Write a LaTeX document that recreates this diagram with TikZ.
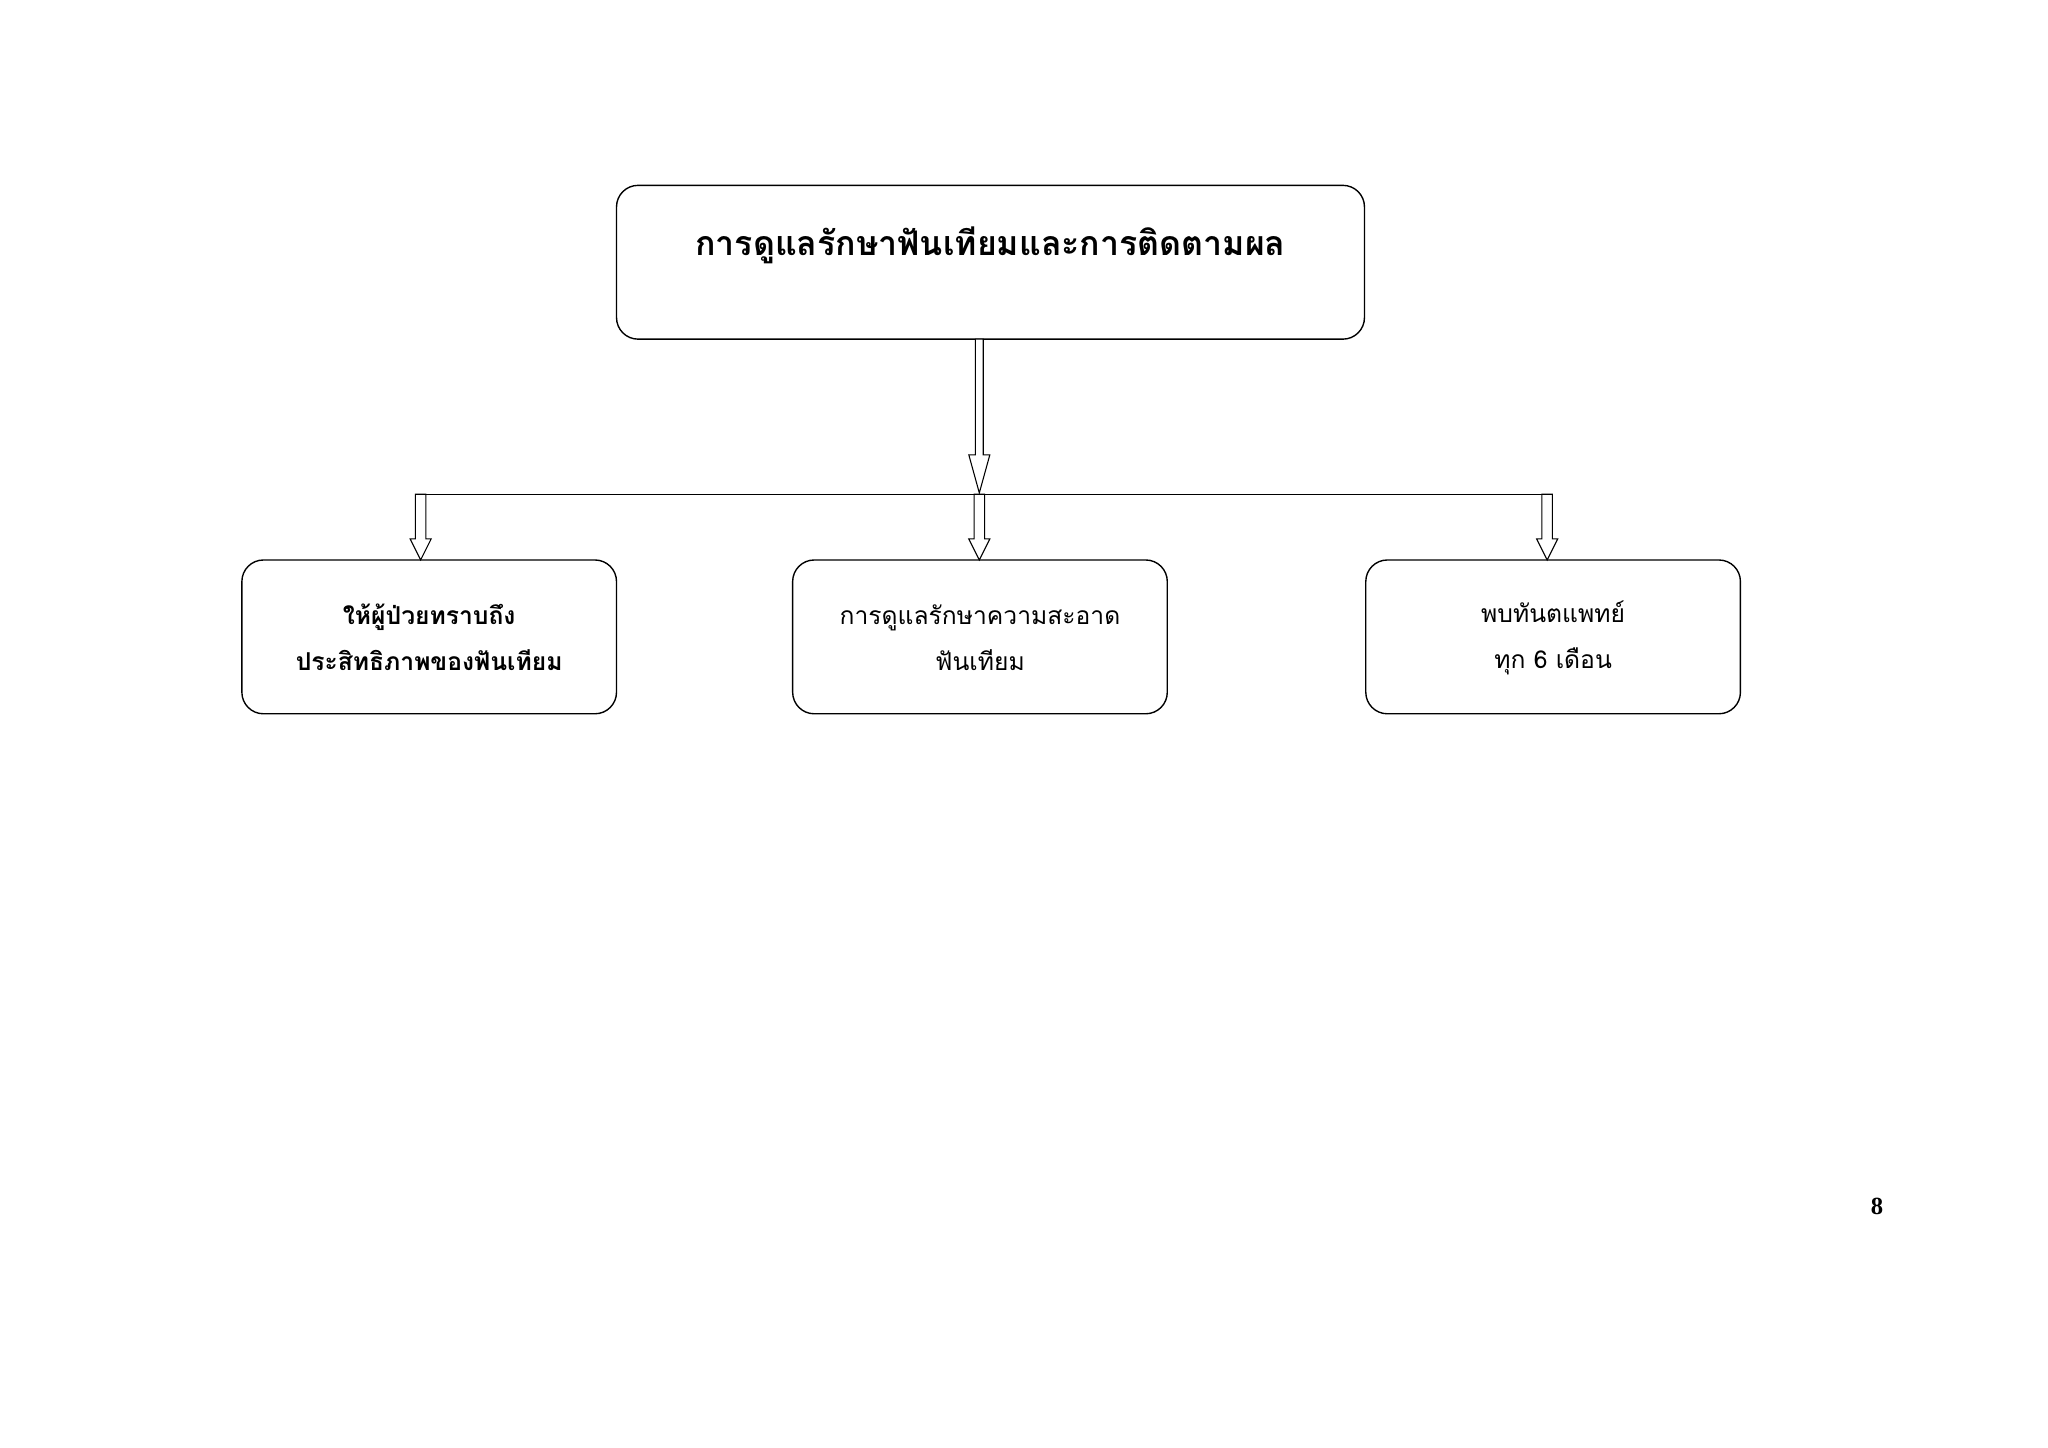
\documentclass[tikz,border=0pt]{standalone}
\usepackage{fontspec}
\newfontfamily\thai[Script=Thai]{Loma}
\setmainfont{Liberation Serif}
\begin{document}
\begin{tikzpicture}[x=0.3mm,y=-0.3mm,
  box/.style={draw,rounded corners=14,line width=0.9pt,inner sep=0},
  harr/.style={draw,line width=0.7pt,fill=white,line join=miter}]
\useasboundingbox (0,0) rectangle (1558,1101.5);
\node[box,minimum width=569*0.3mm,minimum height=117*0.3mm] (top) at (753.5,199.5) {};
\node[font=\thai\bfseries\fontsize{22}{26}\selectfont] (toptxt) at (753.5,187) {การดูแลรักษาฟันเทียมและการติดตามผล};
\foreach \n/\cx in {l/326.5,m/745.5,r/1181.5}{
  \node[box,minimum width=285*0.3mm,minimum height=117*0.3mm] (\n) at (\cx,484.5) {};
}
\node[font=\thai\bfseries\fontsize{16}{20}\selectfont,align=center] (ltxt) at (326.5,485) {ให้ผู้ป่วยทราบถึง\\[10pt]ประสิทธิภาพของฟันเทียม};
\node[font=\thai\fontsize{16}{20}\selectfont,align=center] (mtxt) at (745.5,485) {การดูแลรักษาความสะอาด\\[10pt]ฟันเทียม};
\node[font=\thai\fontsize{16}{20}\selectfont,align=center] (rtxt) at (1181.5,485) {พบทันตแพทย์\\[10pt]ทุก 6 เดือน};
\coordinate (bar) at (745,376);
\draw[line width=0.8pt] (320,376) -- (1177,376);
% big hollow arrow
\draw[harr] (742,258) -- (748,258) -- (748,346) -- (753,346) -- (745,375) -- (737,346) -- (742,346) -- cycle;
\foreach \x in {320,745,1177}{
  \draw[harr] (\x-4,376) -- (\x+4,376) -- (\x+4,410) -- (\x+8,410) -- (\x,426) -- (\x-8,410) -- (\x-4,410) -- cycle;
}
\node[font=\bfseries\fontsize{16}{20}\selectfont] (pg) at (1428,918) {8};
\end{tikzpicture}
\end{document}
